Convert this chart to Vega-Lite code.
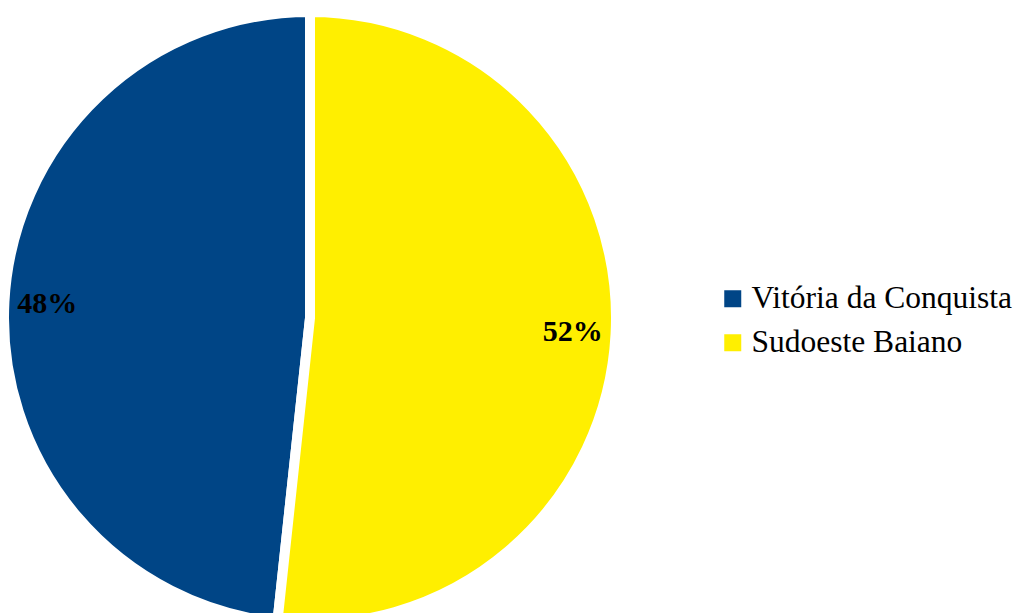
{
  "$schema": "https://vega.github.io/schema/vega-lite/v6.json",
  "width": 620,
  "height": 636,
  "autosize": "none",
  "padding": {"left": 0, "top": 0, "right": 396, "bottom": -23},
  "background": "white",
  "data": {
    "values": [
      {"regiao": "Vitória da Conquista", "share": 0.483},
      {"regiao": "Sudoeste Baiano", "share": 0.517}
    ]
  },
  "encoding": {
    "theta": {"field": "share", "type": "quantitative", "stack": true},
    "order": {"field": "regiao", "sort": "ascending"}
  },
  "layer": [
    {
      "mark": {"type": "arc", "outerRadius": 306, "stroke": "white", "strokeWidth": 10},
      "encoding": {
        "color": {
          "field": "regiao",
          "type": "nominal",
          "scale": {
            "domain": ["Vitória da Conquista", "Sudoeste Baiano"],
            "range": ["#004586", "#ffef00"]
          },
          "legend": {
            "orient": "none",
            "legendX": 717,
            "legendY": 283,
            "title": null,
            "symbolType": "square",
            "symbolSize": 289,
            "symbolStrokeWidth": 0,
            "symbolOpacity": 1,
            "labelFont": "Liberation Serif",
            "labelFontSize": 31.5,
            "labelColor": "black",
            "labelLimit": 0,
            "labelOffset": 3,
            "rowPadding": 11,
            "padding": 0
          }
        }
      }
    },
    {
      "mark": {
        "type": "text",
        "radius": 263,
        "font": "Liberation Serif",
        "fontSize": 30,
        "fontWeight": "bold",
        "color": "black"
      },
      "encoding": {
        "detail": {"field": "regiao"},
        "text": {"field": "share", "type": "quantitative", "format": ".0%"}
      }
    }
  ]
}
